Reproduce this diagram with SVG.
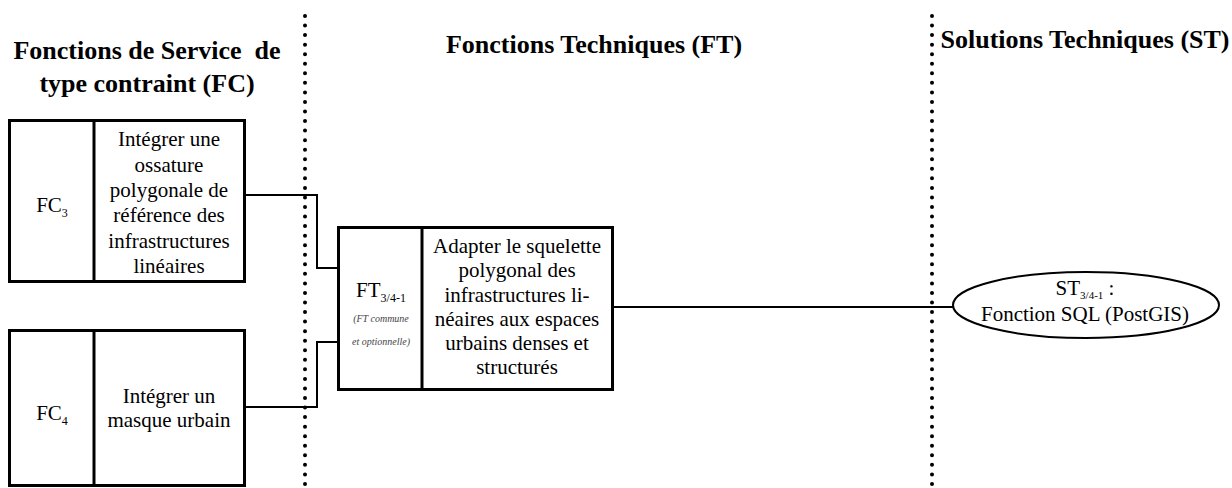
<svg xmlns="http://www.w3.org/2000/svg" width="1232" height="488" viewBox="0 0 1232 488">
<style>
.bg{fill:#fff}
.box{fill:#fff;stroke:#000;stroke-width:3}
.div{stroke:#000;stroke-width:3}
.dots{stroke:#000;stroke-width:4;stroke-linecap:round;stroke-dasharray:0 9.55;fill:none}
.conn{fill:none;stroke:#000;stroke-width:2}
.h{font-family:"Liberation Serif",serif;font-weight:bold;font-size:26px;fill:#000}
.t{font-family:"Liberation Serif",serif;font-size:21px;fill:#000;text-anchor:middle}
.s{font-size:12px}
.it{font-family:"Liberation Serif",serif;font-style:italic;font-size:10px;fill:#444;text-anchor:middle}
</style>
<rect class="bg" x="0" y="0" width="1232" height="488"/>
<g id="separators">
<line class="dots" x1="305" y1="16" x2="305" y2="488"/>
<line class="dots" x1="932" y1="16" x2="932" y2="488"/>
</g>
<g id="headings">
<text class="h" x="147" y="59" text-anchor="middle" xml:space="preserve">Fonctions de Service  de</text>
<text class="h" x="147" y="92" text-anchor="middle">type contraint (FC)</text>
<text class="h" x="594" y="53" text-anchor="middle">Fonctions Techniques (FT)</text>
<text class="h" x="1085" y="48" text-anchor="middle">Solutions Techniques (ST)</text>
</g>
<g id="connectors">
<polyline class="conn" points="245,195 317,195 317,268 338,268"/>
<polyline class="conn" points="245,407 317,407 317,342 338,342"/>
<line class="conn" x1="613" y1="307" x2="953" y2="307"/>
</g>
<g id="FC3">
<rect class="box" x="9.5" y="120.5" width="235" height="161"/>
<line class="div" x1="94" y1="120.5" x2="94" y2="281.5"/>
<text class="t" x="52" y="212">FC<tspan class="s" dy="5">3</tspan></text>
<text class="t" x="169" y="146">Intégrer une</text>
<text class="t" x="169" y="172">ossature</text>
<text class="t" x="169" y="197">polygonale de</text>
<text class="t" x="169" y="222">référence des</text>
<text class="t" x="169" y="248">infrastructures</text>
<text class="t" x="169" y="273">linéaires</text>
</g>
<g id="FC4">
<rect class="box" x="9.5" y="330.5" width="235" height="155"/>
<line class="div" x1="94" y1="330.5" x2="94" y2="485.5"/>
<text class="t" x="52" y="420">FC<tspan class="s" dy="5">4</tspan></text>
<text class="t" x="169" y="403">Intégrer un</text>
<text class="t" x="169" y="427">masque urbain</text>
</g>
<g id="FT">
<rect class="box" x="338.5" y="227.5" width="274" height="162"/>
<line class="div" x1="422" y1="227.5" x2="422" y2="389.5"/>
<text class="t" x="381" y="297">FT<tspan class="s" dy="5">3/4-1</tspan></text>
<text class="it" x="381" y="322">(FT commune</text>
<text class="it" x="381" y="345">et optionnelle)</text>
<text class="t" x="517" y="253">Adapter le squelette</text>
<text class="t" x="517" y="277">polygonal des</text>
<text class="t" x="517" y="302">infrastructures li-</text>
<text class="t" x="517" y="326">néaires aux espaces</text>
<text class="t" x="517" y="350">urbains denses et</text>
<text class="t" x="517" y="374">structurés</text>
</g>
<g id="ST">
<ellipse cx="1086" cy="305" rx="133" ry="33" fill="#fff" stroke="#000" stroke-width="2"/>
<text class="t" x="1085" y="295">ST<tspan font-size="11px" dy="4">3/4-1</tspan><tspan dy="-4"> :</tspan></text>
<text class="t" x="1085" y="321">Fonction SQL (PostGIS)</text>
</g>
</svg>
